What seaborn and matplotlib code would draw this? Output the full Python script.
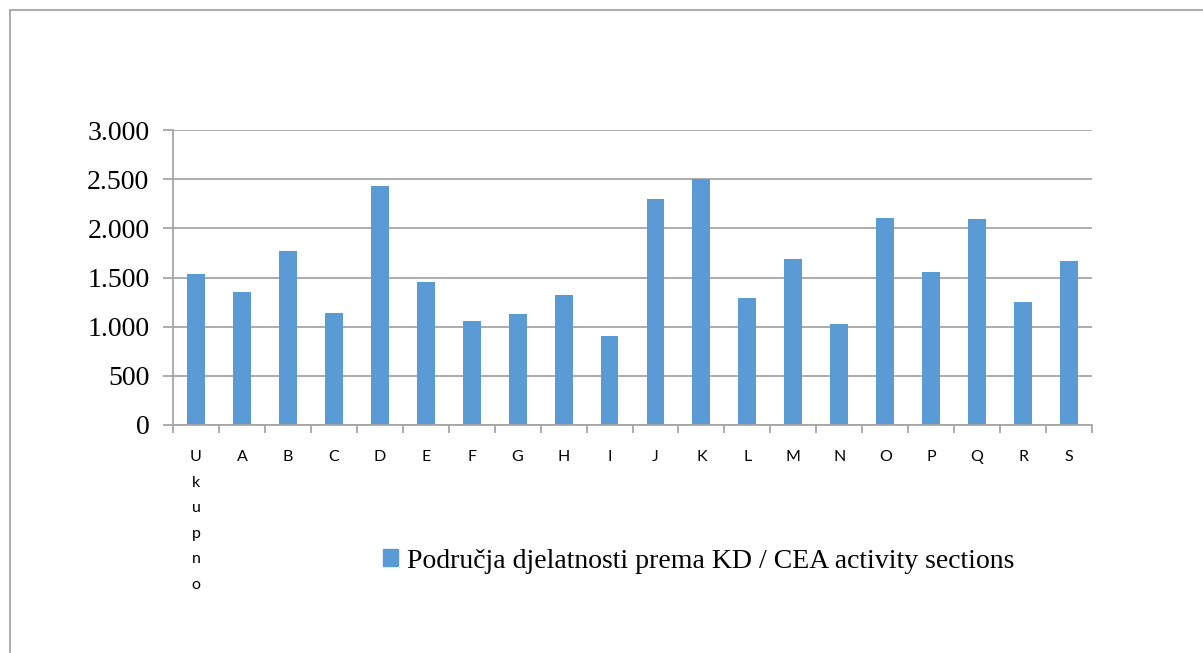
import matplotlib
matplotlib.use("Agg")
import matplotlib.pyplot as plt
import seaborn as sns
import pandas as pd
from matplotlib.patches import Rectangle
from matplotlib.ticker import FuncFormatter

categories = ["Ukupno", "A", "B", "C", "D", "E", "F", "G", "H", "I", "J",
              "K", "L", "M", "N", "O", "P", "Q", "R", "S"]
values = [1539, 1349, 1767, 1138, 2426, 1454, 1060, 1128, 1325, 904, 2303,
          2504, 1288, 1685, 1026, 2110, 1559, 2100, 1250, 1672]
tick_labels = ["U\nk\nu\np\nn\no", "A", "B", "C", "D", "E", "F", "G", "H", "I", "J",
               "K", "L", "M", "N", "O", "P", "Q", "R", "S"]
series_name = "Područja djelatnosti prema KD / CEA activity sections"
yticks = [0, 500, 1000, 1500, 2000, 2500, 3000]

sns.set_theme(style="white")
plt.rcParams['font.family'] = ['DejaVu Sans']
plt.rcParams['text.color'] = 'black'

BAR = "#5B9BD5"
GRID = "#A6A6A6"

fig = plt.figure(figsize=(12.03, 6.53), dpi=100)
ax = fig.add_axes([173 / 1203, 1 - 425 / 653, (1092 - 173) / 1203, (425 - 130) / 653])

df = pd.DataFrame({"cat": categories, "val": values})
sns.barplot(data=df, x="cat", y="val", color=BAR, width=0.39, ax=ax,
            saturation=1, edgecolor="none")

ax.set_xlim(-0.5, len(categories) - 0.5)
ax.set_ylim(0, 3000)
ax.set_yticks(yticks)
ax.yaxis.set_major_formatter(FuncFormatter(lambda v, p: f"{int(v):,}".replace(",", ".")))
ax.grid(axis="y", color=GRID, linewidth=1.3)
ax.set_axisbelow(True)
ax.set_xlabel("")
ax.set_ylabel("")

for s in ["top", "right"]:
    ax.spines[s].set_visible(False)
for s in ["left", "bottom"]:
    ax.spines[s].set_color(GRID)
    ax.spines[s].set_linewidth(1.3)

ax.tick_params(axis="y", which="major", left=True, length=7, width=1.3, color=GRID,
               labelsize=20, pad=10)
for lab in ax.get_yticklabels():
    lab.set_fontfamily("Liberation Serif")
    lab.set_color("black")

# x: labels at centres (no tick), ticks at category boundaries
ax.set_xticks(range(len(categories)))
ax.set_xticklabels(tick_labels, fontfamily="Lato", fontsize=11.5, color="black",
                   va="top", linespacing=2.05)
ax.tick_params(axis="x", which="major", bottom=False, length=0, pad=18)
ax.set_xticks([i - 0.5 for i in range(len(categories) + 1)], minor=True)
ax.tick_params(axis="x", which="minor", bottom=True, length=6, width=1.3, color=GRID)

# legend
handle = Rectangle((0, 0), 1, 1, color=BAR)
leg = fig.legend([handle], [series_name], loc="center left",
                 bbox_to_anchor=(358 / 1203, 1 - 561 / 653), frameon=False,
                 prop={"family": "Liberation Serif", "size": 20},
                 handlelength=0.55, handleheight=0.55, handletextpad=0.3)
for t in leg.get_texts():
    t.set_color("black")

# chart area border (top and left visible)
fig.add_artist(plt.Line2D([9.5 / 1203, 1.0], [1 - 9.5 / 653, 1 - 9.5 / 653],
                          transform=fig.transFigure, color=GRID, linewidth=1.3))
fig.add_artist(plt.Line2D([9.5 / 1203, 9.5 / 1203], [0, 1 - 9.5 / 653],
                          transform=fig.transFigure, color=GRID, linewidth=1.3))

fig.savefig("out.png", dpi=100)
